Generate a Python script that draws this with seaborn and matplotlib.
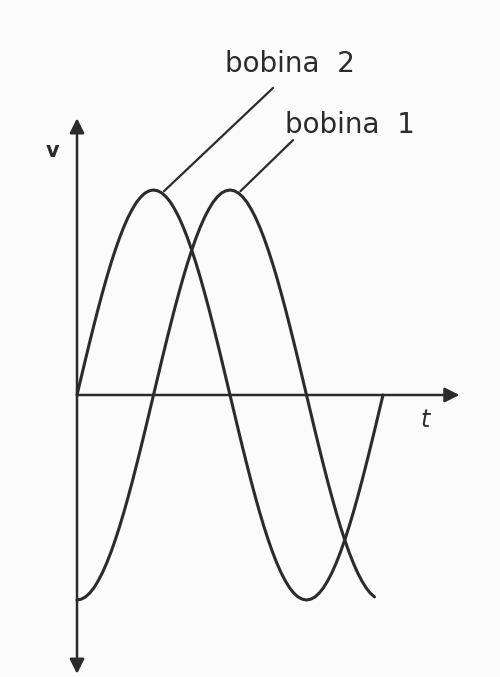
import numpy as np
import pandas as pd
import seaborn as sns
import matplotlib.pyplot as plt

# readings taken off the figure, every 5 degrees of t
t_deg = list(range(0, 365, 5))
bobina_2 = [0.000, 0.087, 0.174, 0.259, 0.342, 0.423, 0.500, 0.574, 0.643, 0.707,
            0.766, 0.819, 0.866, 0.906, 0.940, 0.966, 0.985, 0.996, 1.000, 0.996,
            0.985, 0.966, 0.940, 0.906, 0.866, 0.819, 0.766, 0.707, 0.643, 0.574,
            0.500, 0.423, 0.342, 0.259, 0.174, 0.087, 0.000, -0.087, -0.174, -0.259,
            -0.342, -0.423, -0.500, -0.574, -0.643, -0.707, -0.766, -0.819, -0.866, -0.906,
            -0.940, -0.966, -0.985, -0.996, -1.000, -0.996, -0.985, -0.966, -0.940, -0.906,
            -0.866, -0.819, -0.766, -0.707, -0.643, -0.574, -0.500, -0.423, -0.342, -0.259,
            -0.174, -0.087, 0.000]
bobina_1 = [-1.000, -0.996, -0.985, -0.966, -0.940, -0.906, -0.866, -0.819, -0.766, -0.707,
            -0.643, -0.574, -0.500, -0.423, -0.342, -0.259, -0.174, -0.087, 0.000, 0.087,
            0.174, 0.259, 0.342, 0.423, 0.500, 0.574, 0.643, 0.707, 0.766, 0.819,
            0.866, 0.906, 0.940, 0.966, 0.985, 0.996, 1.000, 0.996, 0.985, 0.966,
            0.940, 0.906, 0.866, 0.819, 0.766, 0.707, 0.643, 0.574, 0.500, 0.423,
            0.342, 0.259, 0.174, 0.087, 0.000, -0.087, -0.174, -0.259, -0.342, -0.423,
            -0.500, -0.574, -0.643, -0.707, -0.766, -0.819, -0.866, -0.906, -0.940, -0.966,
            -0.985]
labels = ['bobina  2', 'bobina  1']

ink = '#2b2b2b'

sns.set_style('white')
plt.rcParams['font.family'] = ['DejaVu Sans']

df2 = pd.DataFrame({'t': t_deg, 'v': bobina_2})
df1 = pd.DataFrame({'t': t_deg[:len(bobina_1)], 'v': bobina_1})

fig = plt.figure(figsize=(5, 6.77), dpi=100)
fig.patch.set_facecolor('#fbfbfb')
ax = fig.add_axes([0, 0, 1, 1])
ax.set_facecolor('#fbfbfb')

sns.lineplot(data=df2, x='t', y='v', ax=ax, color=ink, lw=2.2, sort=False,
             solid_joinstyle='round')
sns.lineplot(data=df1, x='t', y='v', ax=ax, color=ink, lw=2.2, sort=False,
             solid_joinstyle='round')

# px -> data: t = (px - 77) / 0.85 ; v = (395 - py) / 205
ax.set_xlim(-77 / 0.85, (500 - 77) / 0.85)
ax.set_ylim(-(677 - 395) / 205, 395 / 205)
ax.axis('off')

# axes with arrows
arrow = dict(arrowstyle='-|>', color=ink, lw=1.8, mutation_scale=22,
             shrinkA=0, shrinkB=0)
ax.annotate('', xy=(0, 1.35), xytext=(0, 0), arrowprops=arrow)
ax.annotate('', xy=(0, -1.36), xytext=(0, 0), arrowprops=arrow)
ax.annotate('', xy=(450, 0), xytext=(0, 0), arrowprops=arrow)

ax.text(-29, 1.19, 'v', fontsize=15, color=ink, ha='center', va='center',
        fontweight='bold')
ax.text(410, -0.12, 't', fontsize=17, color=ink, ha='center', va='center',
        style='italic')

# labels with leader lines
lead = dict(arrowstyle='-', color=ink, lw=1.6, shrinkA=0, shrinkB=2)
ax.annotate('', xy=(t_deg[20], bobina_2[20]), xytext=(0.546, 0.870),
            textcoords='axes fraction', arrowprops=lead)
ax.annotate('', xy=(t_deg[38], bobina_1[38]), xytext=(0.586, 0.793),
            textcoords='axes fraction', arrowprops=lead)
ax.text(0.580, 0.905, labels[0], transform=ax.transAxes, fontsize=20,
        color=ink, ha='center', va='center')
ax.text(0.700, 0.815, labels[1], transform=ax.transAxes, fontsize=20,
        color=ink, ha='center', va='center')

fig.savefig('out.png', dpi=100, facecolor=fig.get_facecolor())
